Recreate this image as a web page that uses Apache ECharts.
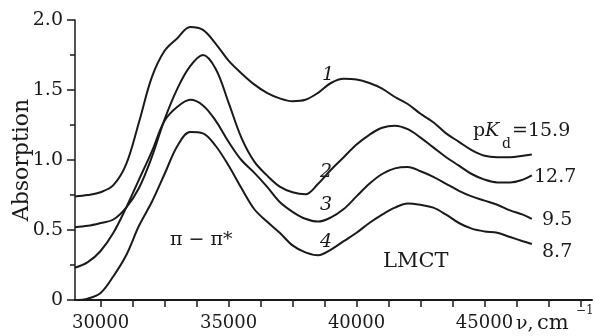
<!DOCTYPE html>
<html>
<head>
<meta charset="utf-8">
<script src="https://cdn.jsdelivr.net/npm/echarts@6/dist/echarts.min.js"></script>
<style>
html, body { margin: 0; padding: 0; background: #fff; }
#chart { width: 595px; height: 336px; }
</style>
</head>
<body>
<div id="chart"></div>
<script>
// absorption spectra, one curve per pKd; x = wavenumber (cm^-1), read every 500 cm^-1
const waveX = [29000, 29500, 30000, 30500, 31000, 31500, 32000, 32500, 33000, 33500, 34000, 34500, 35000, 35500, 36000, 36500, 37000, 37500, 38000, 38500, 39000, 39500, 40000, 40500, 41000, 41500, 42000, 42500, 43000, 43500, 44000, 44500, 45000, 45500, 46000, 46500, 46850];

const curve1Y = [0.74, 0.75, 0.77, 0.82, 0.97, 1.27, 1.59, 1.78, 1.87, 1.95, 1.93, 1.83, 1.71, 1.62, 1.54, 1.48, 1.44, 1.42, 1.43, 1.48, 1.55, 1.58, 1.575, 1.55, 1.51, 1.45, 1.40, 1.33, 1.27, 1.19, 1.13, 1.07, 1.03, 1.02, 1.02, 1.03, 1.04];
const curve2Y = [0.52, 0.53, 0.55, 0.575, 0.66, 0.80, 1.02, 1.29, 1.51, 1.67, 1.75, 1.65, 1.41, 1.16, 0.99, 0.89, 0.81, 0.77, 0.755, 0.83, 0.93, 1.02, 1.11, 1.18, 1.23, 1.245, 1.22, 1.16, 1.09, 1.02, 0.96, 0.90, 0.86, 0.84, 0.84, 0.86, 0.89];
const curve3Y = [0.23, 0.27, 0.35, 0.48, 0.66, 0.86, 1.06, 1.28, 1.38, 1.43, 1.39, 1.28, 1.13, 1.00, 0.91, 0.81, 0.70, 0.63, 0.58, 0.56, 0.59, 0.65, 0.74, 0.83, 0.90, 0.94, 0.95, 0.92, 0.88, 0.83, 0.78, 0.74, 0.71, 0.68, 0.64, 0.61, 0.58];
const curve4Y = [0.00, 0.01, 0.05, 0.17, 0.32, 0.53, 0.70, 0.90, 1.10, 1.20, 1.19, 1.10, 0.96, 0.80, 0.65, 0.56, 0.48, 0.39, 0.34, 0.32, 0.36, 0.42, 0.48, 0.55, 0.61, 0.66, 0.69, 0.68, 0.66, 0.61, 0.55, 0.51, 0.49, 0.48, 0.45, 0.42, 0.40];

const xLabelValues = [30000, 35000, 40000, 45000];
const xTickValues = [30000, 31250, 32500, 33750, 35000, 36250, 37500, 38750, 40000, 41250, 42500, 43750, 45000, 46250, 47500, 48750];

const INK = '#1a1a1a';
const SERIF = '"DejaVu Serif", serif';

function zip(xs, ys) {
  return xs.map((x, i) => [x, ys[i]]);
}

function curve(name, ys) {
  return {
    name,
    type: 'line',
    data: zip(waveX, ys),
    smooth: 0.35,
    symbol: 'none',
    lineStyle: { color: INK, width: 2 },
    silent: true,
  };
}

function label(text, x, y, opts) {
  const o = opts || {};
  return {
    type: 'text',
    x, y,
    rotation: o.rotation || 0,
    style: {
      text,
      font: (o.italic ? 'italic ' : '') + (o.size || 19) + 'px ' + SERIF,
      fill: INK,
      align: o.align || 'left',
      verticalAlign: 'middle',
    },
  };
}

const chart = echarts.init(document.getElementById('chart'), null, { renderer: 'canvas' });

chart.setOption({
  animation: false,
  backgroundColor: '#fff',
  // v6 would otherwise shrink the grid to fit the axis name
  grid: { left: 75, right: 3, top: 20, bottom: 36, containLabel: false, outerBoundsMode: 'none' },
  xAxis: {
    type: 'value',
    min: 29000,
    max: 49200,
    axisLine: { lineStyle: { color: INK, width: 2 } },
    axisTick: { show: true, inside: false, length: 7, lineStyle: { color: INK, width: 1.5 }, customValues: xTickValues },
    axisLabel: { color: INK, fontFamily: SERIF, fontSize: 18, margin: 14, customValues: xLabelValues, formatter: v => String(v) },
    splitLine: { show: false },
  },
  yAxis: {
    type: 'value',
    min: 0,
    max: 2,
    interval: 0.5,
    name: 'Absorption',
    nameLocation: 'middle',
    nameGap: 42,
    nameRotate: 90,
    nameMoveOverlap: false,
    nameTextStyle: { color: INK, fontFamily: SERIF, fontSize: 22 },
    axisLine: { show: true, lineStyle: { color: INK, width: 1.5 } },
    axisTick: { show: true, inside: false, length: 8, lineStyle: { color: INK, width: 1.5 } },
    minorTick: { show: true, splitNumber: 2, length: 5, lineStyle: { color: INK, width: 1.5 } },
    axisLabel: {
      color: INK, fontFamily: SERIF, fontSize: 19, margin: 12,
      formatter: v => (v === 0 ? '0' : v.toFixed(1)),
    },
    splitLine: { show: false },
    minorSplitLine: { show: false },
  },
  series: [
    curve('15.9', curve1Y),
    curve('12.7', curve2Y),
    curve('9.5', curve3Y),
    curve('8.7', curve4Y),
  ],
  graphic: [
    // curve numbers
    label('1', 322, 75, { italic: true }),
    label('2', 320, 172, { italic: true }),
    label('3', 320, 205, { italic: true }),
    label('4', 320, 242, { italic: true }),
    // band names
    label('π − π*', 170, 240),
    label('LMCT', 383, 262, { size: 21 }),
    // pKd values at the right end of each curve
    label('p', 473, 131),
    label('K', 485, 131, { italic: true }),
    label('d', 502, 144, { size: 14 }),
    label('=15.9', 512, 131),
    label('12.7', 534, 177),
    label('9.5', 542, 220),
    label('8.7', 542, 252),
    // x axis unit
    label('ν,', 516, 324),
    label('cm', 537, 324, { size: 21 }),
    label('−1', 576, 311, { size: 12 }),
  ],
});
</script>
</body>
</html>
